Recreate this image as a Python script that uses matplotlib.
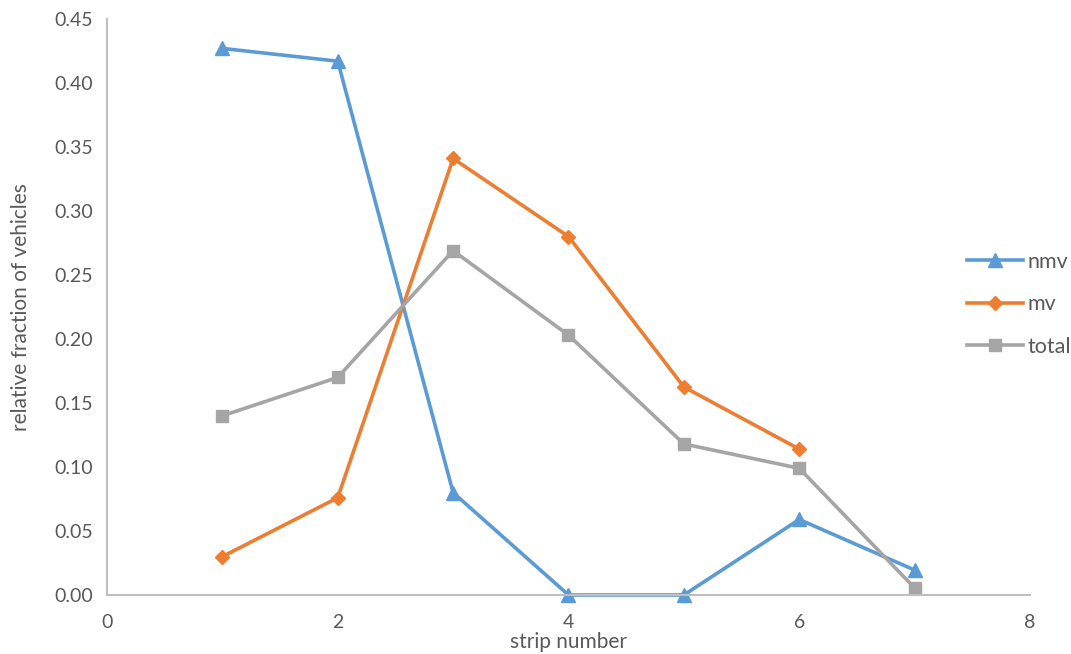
import matplotlib
matplotlib.use("Agg")
from matplotlib import pyplot as plt

plt.rcParams['font.family'] = ['Lato', 'DejaVu Sans']

strip = [1, 2, 3, 4, 5, 6, 7]
nmv = [0.427, 0.417, 0.080, 0.0, 0.0, 0.059, 0.0195]
mv_strip = [1, 2, 3, 4, 5, 6]
mv = [0.030, 0.076, 0.341, 0.280, 0.1625, 0.114]
total = [0.140, 0.170, 0.269, 0.203, 0.118, 0.099, 0.0055]

fig = plt.figure(figsize=(10.71, 6.54), dpi=100)
ax = fig.add_axes([0.0999, 0.0902, 0.8618, 0.8808])

ax.plot(strip, nmv, color='#5B9BD5', lw=2.6, marker='^', ms=10, label='nmv', clip_on=False)
ax.plot(mv_strip, mv, color='#ED7D31', lw=2.6, marker='D', ms=7, label='mv', clip_on=False)
ax.plot(strip, total, color='#A5A5A5', lw=2.6, marker='s', ms=9, label='total', clip_on=False)

ax.set_xlim(0, 8)
ax.set_ylim(0, 0.45)
ax.set_xticks([0, 2, 4, 6, 8])
ax.set_yticks([i * 0.05 for i in range(10)])
ax.set_yticklabels([f'{i * 0.05:.2f}' for i in range(10)])

for s in ['top', 'right']:
    ax.spines[s].set_visible(False)
for s in ['left', 'bottom']:
    ax.spines[s].set_color('#BFBFBF')
    ax.spines[s].set_linewidth(1.5)
ax.tick_params(length=0, labelsize=14, colors='#595959')
ax.tick_params(axis='x', pad=14)
ax.tick_params(axis='y', pad=10)

ax.set_xlabel('strip number', fontsize=15, color='#595959')
ax.xaxis.set_label_coords(0.5, -0.065)
ax.set_ylabel('relative fraction of vehicles', fontsize=15, color='#595959')
ax.yaxis.set_label_coords(-0.082, 0.5)

leg = fig.legend(loc='center left', bbox_to_anchor=(0.885, 0.535), frameon=False,
                 fontsize=15.5, labelcolor='#595959', handlelength=2.6,
                 labelspacing=1.05, handletextpad=0.2)

fig.savefig('out.png', dpi=100)
